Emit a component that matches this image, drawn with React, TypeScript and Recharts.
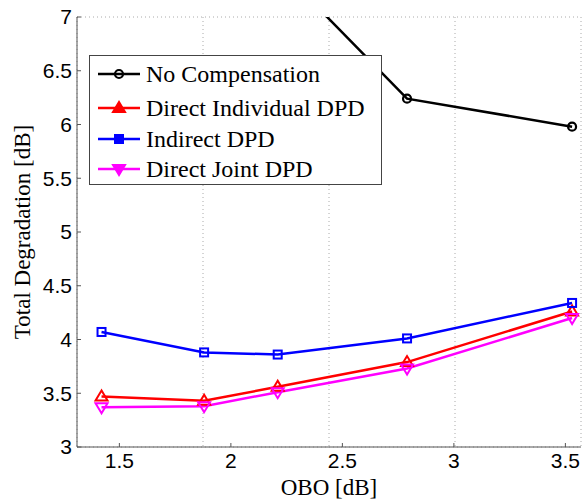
import React from 'react';
import { LineChart, Line, XAxis, YAxis, CartesianGrid, Legend } from 'recharts';

const obo = [1.42, 1.88, 2.21, 2.79, 3.53];
const noComp = [9.0, 8.2, 7.47, 6.24, 5.98];
const directIndividual = [3.47, 3.43, 3.56, 3.79, 4.26];
const indirect = [4.07, 3.88, 3.86, 4.01, 4.34];
const directJoint = [3.37, 3.38, 3.51, 3.73, 4.2];
const xTicks = [1.5, 2, 2.5, 3, 3.5];
const yTicks = [3, 3.5, 4, 4.5, 5, 5.5, 6, 6.5, 7];

const data = obo.map((x, i) => ({
  x,
  noComp: noComp[i],
  di: directIndividual[i],
  ind: indirect[i],
  dj: directJoint[i],
}));

const series = [
  { key: 'noComp', name: 'No Compensation', color: '#000000', shape: 'circle' },
  { key: 'di', name: 'Direct Individual DPD', color: '#ff0000', shape: 'triUp' },
  { key: 'ind', name: 'Indirect DPD', color: '#0000ff', shape: 'square' },
  { key: 'dj', name: 'Direct Joint DPD', color: '#ff00ff', shape: 'triDown' },
];

function Marker({ cx, cy, shape, color, fill }: any) {
  if (cx == null || cy == null) return null;
  const fc = fill || 'none';
  if (shape === 'circle') return <circle cx={cx} cy={cy} r={4} fill={fc} stroke={color} strokeWidth={2.2} />;
  if (shape === 'square') return <rect x={cx - 4} y={cy - 4} width={8} height={8} fill={fc} stroke={color} strokeWidth={2} />;
  if (shape === 'triUp') return <polygon points={`${cx},${cy - 6} ${cx - 6},${cy + 4} ${cx + 6},${cy + 4}`} fill={fc} stroke={color} strokeWidth={2} />;
  return <polygon points={`${cx},${cy + 6} ${cx - 6},${cy - 4} ${cx + 6},${cy - 4}`} fill={fc} stroke={color} strokeWidth={2} />;
}

const serif = 'Liberation Serif, DejaVu Serif, serif';
const sans = 'Liberation Sans, Arial, sans-serif';

function LegendBox() {
  const rowsY = [18, 52, 83, 113];
  return (
    <div style={{ position: 'absolute', left: 89, top: 55, width: 293, height: 130, border: '1px solid #444', background: '#fff', boxSizing: 'border-box' }}>
      {series.map((s, i) => (
        <div key={s.key} style={{ position: 'absolute', left: 0, top: rowsY[i] - 13, height: 26, display: 'flex', alignItems: 'center' }}>
          <svg width={56} height={24} style={{ display: 'block' }}>
            <line x1={8} y1={12} x2={50} y2={12} stroke={s.color} strokeWidth={2.5} />
            <Marker cx={29} cy={12} shape={s.shape} color={s.color} fill={s.shape === 'circle' ? 'none' : s.color} />
          </svg>
          <span style={{ fontFamily: serif, fontSize: 24, lineHeight: '26px', color: '#000', whiteSpace: 'nowrap' }}>{s.name}</span>
        </div>
      ))}
    </div>
  );
}

const XLabel = (props: any) => {
  const vb = props.viewBox || {};
  const cx = vb.x + vb.width / 2;
  return (
    <text x={cx} y={495} textAnchor="middle" style={{ fontFamily: serif, fontSize: 23 }} fill="#000">OBO [dB]</text>
  );
};

const YLabel = (props: any) => {
  const vb = props.viewBox || {};
  const cy = vb.y + vb.height / 2;
  return (
    <text x={0} y={0} transform={`translate(30, ${cy}) rotate(-90)`} textAnchor="middle" style={{ fontFamily: serif, fontSize: 23 }} fill="#000">Total Degradation [dB]</text>
  );
};

export default function App() {
  return (
    <div style={{ position: 'absolute', left: 0, top: 0, width: 584, height: 499, background: '#fff' }}>
      <LineChart width={584} height={499} data={data} margin={{ top: 17, right: 3, bottom: 0, left: 0 }}>
        <CartesianGrid stroke="#aaa" strokeDasharray="1 3" />
        <XAxis
          xAxisId="b"
          dataKey="x"
          type="number"
          domain={[1.31, 3.57]}
          ticks={xTicks}
          allowDataOverflow
          height={52}
          tickSize={-4}
          tickLine={{ stroke: '#555' }}
          axisLine={{ stroke: '#555' }}
          tick={{ fontFamily: sans, fontSize: 21, fill: '#000' }}
          tickMargin={10}
          label={<XLabel />}
        />
        <XAxis xAxisId="t" dataKey="x" type="number" domain={[1.31, 3.57]} ticks={xTicks} orientation="top" height={0} tickSize={-4} tickFormatter={() => ''} tickLine={{ stroke: '#555' }} axisLine={{ stroke: '#555' }} allowDataOverflow />
        <YAxis
          yAxisId="l"
          type="number"
          domain={[3, 7]}
          ticks={yTicks}
          allowDataOverflow
          width={77}
          tickSize={-4}
          tickLine={{ stroke: '#555' }}
          axisLine={{ stroke: '#555' }}
          tick={{ fontFamily: sans, fontSize: 21, fill: '#000' }}
          tickMargin={9}
          label={<YLabel />}
        />
        <YAxis yAxisId="r" orientation="right" width={0} domain={[3, 7]} ticks={yTicks} tickSize={-4} tickFormatter={() => ''} tickLine={{ stroke: '#555' }} axisLine={{ stroke: '#555' }} allowDataOverflow />
        {series.map((s) => (
          <Line
            key={s.key}
            xAxisId="b"
            yAxisId="l"
            dataKey={s.key}
            name={s.name}
            stroke={s.color}
            strokeWidth={2.5}
            isAnimationActive={false}
            dot={(p: any) => <Marker key={`${s.key}-${p.index}`} cx={p.cx} cy={p.cy} shape={s.shape} color={s.color} />}
            activeDot={false}
          />
        ))}
        <Legend content={() => <LegendBox />} wrapperStyle={{ position: 'absolute', left: 0, top: 0, width: 0, height: 0 }} />
      </LineChart>
    </div>
  );
}
